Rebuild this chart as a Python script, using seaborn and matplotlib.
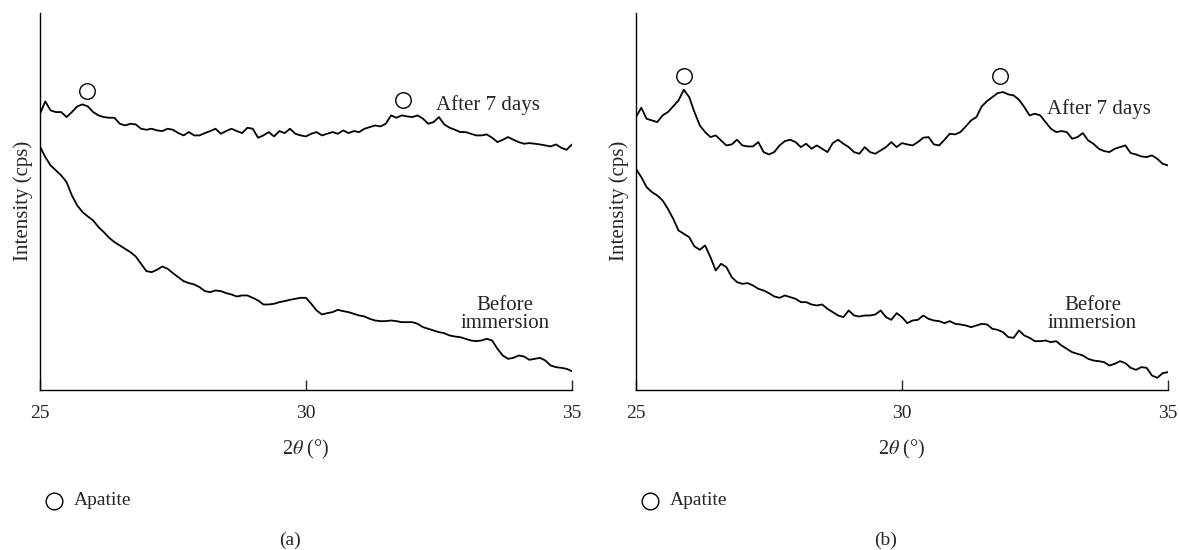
import numpy as np
import pandas as pd
import matplotlib.pyplot as plt
import seaborn as sns
from matplotlib.lines import Line2D

sns.set_style("ticks")
plt.rcParams['font.family'] = ['Liberation Serif', 'DejaVu Serif']
plt.rcParams['mathtext.fontset'] = 'stix'

# scan grid, 2theta in degrees (0.1 deg step)
two_theta = np.round(np.linspace(25, 35, 101), 1)

# intensities (arbitrary cps units)
a_after = [827, 864, 837, 832, 832, 817, 832, 849, 855, 849,
           832, 822, 817, 815, 815, 797, 792, 797, 795, 782,
           779, 782, 777, 775, 782, 779, 769, 762, 772, 762,
           762, 769, 775, 782, 767, 775, 782, 775, 769, 785,
           782, 755, 762, 772, 759, 775, 769, 782, 767, 762,
           759, 767, 772, 762, 767, 772, 767, 777, 769, 775,
           772, 782, 787, 792, 789, 797, 822, 815, 822, 819,
           817, 822, 812, 797, 802, 817, 795, 785, 779, 772,
           772, 767, 762, 762, 765, 755, 742, 749, 757, 749,
           742, 737, 739, 737, 735, 732, 729, 735, 725, 719,
           735]
a_before = [729, 697, 672, 657, 642, 622, 582, 552, 532, 519,
            507, 487, 472, 455, 442, 432, 422, 412, 399, 377,
            355, 352, 359, 369, 362, 349, 337, 325, 319, 315,
            307, 295, 292, 297, 295, 289, 285, 279, 282, 282,
            275, 267, 255, 255, 257, 262, 265, 269, 272, 275,
            275, 257, 237, 225, 229, 232, 239, 235, 232, 227,
            222, 219, 212, 207, 205, 205, 207, 205, 202, 202,
            202, 197, 187, 182, 177, 172, 169, 162, 159, 157,
            152, 147, 145, 147, 152, 147, 122, 102, 92, 95,
            102, 99, 89, 92, 95, 87, 72, 67, 65, 62,
            55]
b_after = [817, 845, 812, 807, 802, 822, 832, 849, 867, 899,
           877, 832, 792, 772, 757, 762, 747, 732, 735, 749,
           732, 729, 729, 742, 712, 705, 712, 732, 745, 749,
           742, 727, 737, 722, 732, 722, 712, 739, 749, 737,
           727, 712, 707, 727, 712, 707, 717, 727, 742, 727,
           739, 735, 732, 742, 755, 757, 735, 732, 749, 767,
           765, 772, 789, 807, 817, 849, 865, 877, 889, 892,
           885, 882, 869, 847, 822, 827, 822, 802, 782, 772,
           775, 772, 752, 757, 769, 747, 737, 722, 715, 712,
           722, 727, 732, 709, 705, 699, 697, 702, 692, 677,
           672]
b_before = [662, 637, 607, 592, 582, 567, 542, 512, 477, 467,
            457, 429, 419, 432, 397, 357, 377, 367, 337, 322,
            317, 319, 312, 302, 297, 289, 279, 275, 282, 277,
            272, 262, 262, 255, 252, 255, 242, 232, 222, 217,
            237, 222, 219, 222, 222, 225, 237, 217, 209, 229,
            217, 199, 207, 209, 222, 212, 207, 205, 199, 205,
            197, 195, 192, 187, 192, 197, 195, 182, 179, 172,
            157, 155, 177, 162, 155, 145, 145, 147, 142, 145,
            132, 122, 112, 107, 102, 92, 87, 85, 82, 72,
            77, 85, 79, 65, 59, 67, 65, 42, 35, 49,
            52]

# apatite peak markers (2theta, height)
a_peaks_x = [25.88, 31.82]
a_peaks_y = [895, 867]
b_peaks_x = [25.9, 31.85]
b_peaks_y = [940, 940]

panels = [
    dict(after=a_after, before=a_before, px=a_peaks_x, py=a_peaks_y,
         after_lbl=(33.42, 852), before_lbl=(33.74, 226)),
    dict(after=b_after, before=b_before, px=b_peaks_x, py=b_peaks_y,
         after_lbl=(33.70, 840), before_lbl=(33.58, 226)),
]

fig = plt.figure(figsize=(11.79, 5.5), dpi=100)
axes = [fig.add_axes([0.0339, 0.2918, 0.4512, 0.6845]),
        fig.add_axes([0.5394, 0.2918, 0.4512, 0.6845])]

for ax, p in zip(axes, panels):
    df = pd.DataFrame({'two_theta': np.concatenate([two_theta, two_theta]),
                       'intensity': p['after'] + p['before'],
                       'sample': ['after'] * 101 + ['before'] * 101})
    sns.lineplot(data=df, x='two_theta', y='intensity', units='sample',
                 estimator=None, color='black', lw=1.3, ax=ax)
    sns.scatterplot(x=p['px'], y=p['py'], marker='o', s=125,
                    facecolor='white', edgecolor='black', linewidth=1.0,
                    ax=ax, zorder=5)
    ax.text(*p['after_lbl'], 'After 7 days', ha='center', va='center', fontsize=15)
    ax.text(*p['before_lbl'], 'Before\nimmersion', ha='center', va='center',
            fontsize=15, linespacing=0.92)
    ax.set_xlim(25, 35)
    ax.set_ylim(0, 1129)
    ax.set_xticks([25, 30, 35])
    ax.set_yticks([])
    ax.tick_params(axis='x', direction='in', length=7.5, width=1.0,
                   labelsize=14, pad=11)
    ax.set_xlabel(r'2$\theta$ (°)', fontsize=14.5, labelpad=12)
    ax.set_ylabel('Intensity (cps)', fontsize=15, labelpad=5)
    for s in ['top', 'right']:
        ax.spines[s].set_visible(False)
    for s in ['left', 'bottom']:
        ax.spines[s].set_linewidth(1.0)
        ax.spines[s].set_color('black')

# apatite legend and panel tags
for x0, tag_x, tag in [(0.0454, 0.246, '(a)'), (0.551, 0.751, '(b)')]:
    fig.add_artist(Line2D([x0], [0.09], marker='o', ms=12, mfc='white',
                          mec='black', mew=1.0, transform=fig.transFigure))
    fig.text(x0 + 0.0174, 0.09, 'Apatite', fontsize=14, va='center')
    fig.text(tag_x, 0.018, tag, fontsize=14, ha='center', va='center')

fig.savefig('out.png', dpi=100)
